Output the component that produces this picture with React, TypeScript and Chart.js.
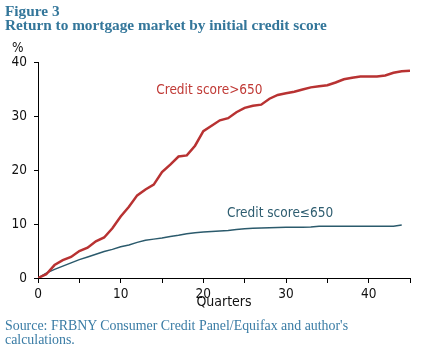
import React, { useEffect, useRef } from "react";
import { Chart, registerables } from "chart.js";

Chart.register(...registerables);

const quarters: number[] = Array.from({ length: 46 }, (_, i) => i);

const highScore: number[] = [
  0, 0.7, 2.4, 3.3, 3.9, 5.0, 5.6, 6.8, 7.5, 9.2,
  11.4, 13.2, 15.3, 16.4, 17.3, 19.6, 21.0, 22.5, 22.7, 24.5,
  27.2, 28.2, 29.2, 29.6, 30.7, 31.5, 31.9, 32.1, 33.2, 33.9,
  34.2, 34.5, 34.9, 35.3, 35.5, 35.7, 36.2, 36.8, 37.1, 37.3,
  37.3, 37.3, 37.5, 38.0, 38.3, 38.4,
];

const lowScore: number[] = [
  0, 0.9, 1.6, 2.2, 2.8, 3.4, 3.9, 4.4, 4.9, 5.3,
  5.8, 6.1, 6.6, 7.0, 7.2, 7.4, 7.7, 7.9, 8.2, 8.4,
  8.5, 8.6, 8.7, 8.8, 9.0, 9.1, 9.2, 9.25, 9.3, 9.35,
  9.4, 9.4, 9.4, 9.45, 9.6, 9.6, 9.6, 9.6, 9.6, 9.6,
  9.6, 9.6, 9.6, 9.6, 9.8,
];

const seriesLabels = ["Credit score>650", "Credit score\u2264650"];
// label anchors in data units [x, y]
const labelAnchors: [number, number][] = [
  [14.3, 34.8],
  [22.85, 12.0],
];

const RED = "#b83232";
const BLUE = "#2b5a6c";
const SANS = '"DejaVu Sans Condensed", "Liberation Sans", Arial, sans-serif';

export default function App() {
  const ref = useRef<HTMLCanvasElement>(null);

  useEffect(() => {
    if (!ref.current) return;
    const labelPlugin = {
      id: "labels",
      afterDraw(chart: any) {
        const { ctx, scales } = chart;
        const xs = scales.x;
        const ys = scales.y;
        ctx.save();
        ctx.font = `13.5px ${SANS}`;
        ctx.textAlign = "left";
        ctx.textBaseline = "middle";
        const colors = ["#c03a36", "#2e5d70"];
        seriesLabels.forEach((t, i) => {
          ctx.fillStyle = colors[i];
          ctx.fillText(t, xs.getPixelForValue(labelAnchors[i][0]), ys.getPixelForValue(labelAnchors[i][1]));
        });
        ctx.fillStyle = "#111";
        ctx.textAlign = "left";
        ctx.fillText("%", 12, 48);
        ctx.restore();
      },
    };

    const chart = new Chart(ref.current, {
      type: "line",
      data: {
        datasets: [
          {
            label: seriesLabels[0],
            data: highScore.map((v, i) => ({ x: quarters[i], y: v })),
            borderColor: RED,
            borderWidth: 2.5,
            pointRadius: 0,
            tension: 0,
          },
          {
            label: seriesLabels[1],
            data: lowScore.map((v, i) => ({ x: quarters[i], y: v })),
            borderColor: BLUE,
            borderWidth: 1.5,
            pointRadius: 0,
            tension: 0,
          },
        ],
      },
      options: {
        responsive: false,
        animation: false,
        layout: { padding: { top: 62, right: 16, bottom: 42, left: 0 } },
        plugins: { legend: { display: false }, tooltip: { enabled: false } },
        scales: {
          x: {
            type: "linear",
            min: 0,
            max: 45,
            afterFit(scale: any) {
              scale.height = 33;
            },
            afterBuildTicks(scale: any) {
              const t = [];
              for (let v = 0; v <= 45; v += 5) t.push({ value: v });
              scale.ticks = t;
            },
            ticks: {
              color: "#111",
              font: { family: SANS, size: 13.5 },
              padding: 3,
              maxRotation: 0,
              autoSkip: false,
              callback: (v: any) => (Number(v) % 10 === 0 ? String(v) : ""),
            },
            grid: { display: true, drawOnChartArea: false, drawTicks: true, tickLength: 5, color: "#000" },
            border: { display: true, color: "#000", width: 1 },
            title: {
              display: true,
              text: "Quarters",
              color: "#111",
              font: { family: SANS, size: 14 },
              padding: 0,
            },
          },
          y: {
            min: 0,
            max: 40,
            afterFit(scale: any) {
              scale.width = 38;
            },
            ticks: {
              stepSize: 10,
              color: "#111",
              font: { family: SANS, size: 13.5 },
              padding: 7,
            },
            grid: { display: true, drawOnChartArea: false, drawTicks: true, tickLength: 4, color: "#000" },
            border: { display: true, color: "#000", width: 1 },
          },
        },
      },
      plugins: [labelPlugin],
    });
    return () => chart.destroy();
  }, []);

  const titleStyle: React.CSSProperties = {
    position: "absolute",
    left: 5,
    top: 4,
    fontFamily: '"Liberation Serif", "Times New Roman", serif',
    fontWeight: "bold",
    fontSize: 15.3,
    lineHeight: "14px",
    color: "#33769a",
    whiteSpace: "nowrap",
  };
  const sourceStyle: React.CSSProperties = {
    position: "absolute",
    left: 5,
    top: 319,
    fontFamily: '"Liberation Serif", "Times New Roman", serif',
    fontSize: 13.9,
    lineHeight: "14px",
    color: "#3a7ca5",
    whiteSpace: "nowrap",
  };

  return (
    <div style={{ position: "absolute", left: 0, top: 0, width: 426, height: 353, background: "#fff", overflow: "hidden" }}>
      <canvas ref={ref} width={426} height={353} style={{ position: "absolute", left: 0, top: 0 }} />
      <div style={titleStyle}>
        Figure 3<br />
        Return to mortgage market by initial credit score
      </div>
      <div style={sourceStyle}>
        Source: FRBNY Consumer Credit Panel/Equifax and author's<br />
        calculations.
      </div>
    </div>
  );
}
